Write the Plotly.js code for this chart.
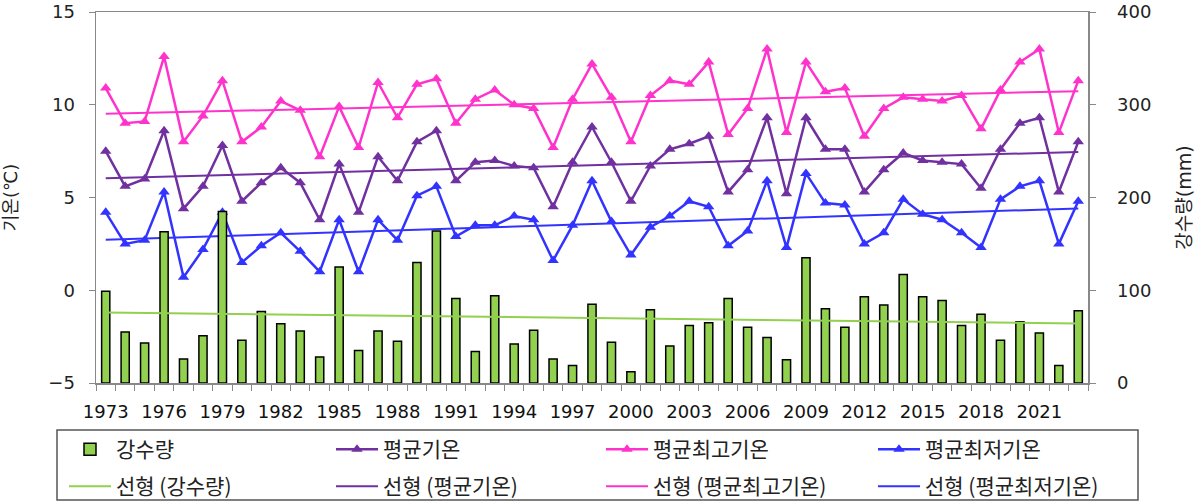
<!DOCTYPE html>
<html>
<head>
<meta charset="utf-8">
<script src="https://cdn.plot.ly/plotly-3.0.1.min.js"></script>
<style>html,body{margin:0;padding:0;background:#fff;}#chart{width:1195px;height:502px;}</style>
</head>
<body>
<div id="chart"></div>
<script>
const years = [1973,1974,1975,1976,1977,1978,1979,1980,1981,1982,1983,1984,1985,1986,1987,1988,1989,1990,1991,1992,1993,1994,1995,1996,1997,1998,1999,2000,2001,2002,2003,2004,2005,2006,2007,2008,2009,2010,2011,2012,2013,2014,2015,2016,2017,2018,2019,2020,2021,2022,2023];
const precip = [99,55,43,163,26,51,185,46,77,64,56,28,125,35,56,45,130,164,91,34,94,42,57,26,19,85,44,12,79,40,62,65,91,60,49,25,135,80,60,93,84,117,93,89,62,74,46,66,54,19,78];
const tMean = [7.5,5.6,6.0,8.6,4.4,5.6,7.8,4.8,5.8,6.6,5.8,3.8,6.8,4.2,7.2,5.9,8.0,8.6,5.9,6.9,7.0,6.7,6.6,4.5,6.9,8.8,6.9,4.8,6.7,7.6,7.9,8.3,5.3,6.5,9.3,5.2,9.3,7.6,7.6,5.3,6.5,7.4,7.0,6.9,6.8,5.5,7.6,9.0,9.3,5.3,8.0];
const tMax = [10.9,9.0,9.1,12.6,8.0,9.4,11.3,8.0,8.8,10.2,9.7,7.2,9.9,7.7,11.2,9.3,11.1,11.4,9.0,10.3,10.8,10.0,9.8,7.7,10.3,12.2,10.4,8.0,10.5,11.3,11.1,12.3,8.4,9.8,13.0,8.5,12.3,10.7,10.9,8.3,9.8,10.4,10.3,10.2,10.5,8.7,10.8,12.3,13.0,8.5,11.3];
const tMin = [4.2,2.5,2.7,5.3,0.7,2.2,4.2,1.5,2.4,3.1,2.1,1.0,3.8,1.0,3.8,2.7,5.1,5.6,2.9,3.5,3.5,4.0,3.8,1.6,3.5,5.9,3.7,1.9,3.4,4.0,4.8,4.5,2.4,3.2,5.9,2.3,6.3,4.7,4.6,2.5,3.1,4.9,4.1,3.8,3.1,2.3,4.9,5.6,5.9,2.5,4.8];
const xTickLabels = ["1973","1976","1979","1982","1985","1988","1991","1994","1997","2000","2003","2006","2009","2012","2015","2018","2021"];
const seriesNames = ["강수량","평균기온","평균최고기온","평균최저기온"];

function trend(xs, ys){
  const n = xs.length;
  let sx=0,sy=0,sxx=0,sxy=0;
  for(let i=0;i<n;i++){sx+=xs[i];sy+=ys[i];sxx+=xs[i]*xs[i];sxy+=xs[i]*ys[i];}
  const b=(n*sxy-sx*sy)/(n*sxx-sx*sx), a=(sy-b*sx)/n;
  return xs.map(x=>a+b*x);
}

const cGreen='#92D050', cPurple='#7030A0', cPink='#FF33CC', cBlue='#3333FF';
const fontFam = 'DejaVu Sans, Noto Sans CJK KR, sans-serif';
const legId = i => (i === 0 ? 'legend' : 'legend' + (i + 1));

function lineTrace(y, name, color, k){
  return {x:years, y:y, name:name, type:'scatter', mode:'lines+markers', yaxis:'y', legend:legId(k),
    line:{color:color, width:2.5}, marker:{symbol:'triangle-up', size:10, color:color}};
}
function trendTrace(y, name, color, axis, k){
  return {x:years, y:trend(years,y), name:'선형 ('+name+')', type:'scatter', mode:'lines', yaxis:axis,
    legend:legId(k), line:{color:color, width:2}};
}

const data = [
  {x:years, y:precip, name:seriesNames[0], type:'bar', yaxis:'y2', width:0.42, legend:legId(0),
   marker:{color:cGreen, line:{color:'#000', width:1.5}}},
  lineTrace(tMean, seriesNames[1], cPurple, 1),
  lineTrace(tMax, seriesNames[2], cPink, 2),
  lineTrace(tMin, seriesNames[3], cBlue, 3),
  trendTrace(precip, seriesNames[0], cGreen, 'y2', 4),
  trendTrace(tMean, seriesNames[1], cPurple, 'y', 5),
  trendTrace(tMax, seriesNames[2], cPink, 'y', 6),
  trendTrace(tMin, seriesNames[3], cBlue, 'y', 7)
];

const legColLeft = [64, 331, 601, 873];
const legRowTop = [429, 466];
function legendCell(k){
  return {orientation:'h', xref:'container', yref:'container',
    x:legColLeft[k % 4]/1195, xanchor:'left', y:(502 - legRowTop[Math.floor(k / 4)])/502, yanchor:'top',
    bgcolor:'rgba(0,0,0,0)', borderwidth:0,
    font:{size:21, family:'Noto Sans CJK KR, sans-serif', color:'#222'},
    itemwidth:42};
}

const layout = {
  width:1195, height:502,
  margin:{l:96, r:107, t:12, b:119},
  paper_bgcolor:'#fff', plot_bgcolor:'#fff',
  font:{family:fontFam, size:15, color:'#222'},
  showlegend:true,
  xaxis:{type:'linear', range:[1972.5,2023.5], tickmode:'array', automargin:false,
    tickvals:xTickLabels.map(Number), ticktext:xTickLabels, ticks:'', showgrid:false, zeroline:false,
    showline:true, linecolor:'#888', linewidth:1.5, mirror:true, ticklabelstandoff:12,
    tickfont:{size:18, family:fontFam, color:'#111'},
    minor:{tickmode:'linear', tick0:1972.5, dtick:1, ticks:'outside', ticklen:6, tickcolor:'#888', showgrid:false}},
  yaxis:{range:[-5,15], dtick:5, tick0:-5, ticks:'outside', ticklen:6, tickcolor:'#888', automargin:false,
    showline:true, linecolor:'#888', linewidth:1.5, showgrid:false, zeroline:false, ticklabelstandoff:10,
    tickfont:{size:18, family:fontFam, color:'#222'},
    title:{text:'기온(℃)', font:{size:18, family:fontFam, color:'#222'}, standoff:26}},
  yaxis2:{overlaying:'y', side:'right', range:[0,400], dtick:100, ticks:'outside', ticklen:6, tickcolor:'#888', automargin:false,
    showline:true, linecolor:'#888', linewidth:1.5, showgrid:false, zeroline:false, ticklabelstandoff:18,
    tickfont:{size:18, family:fontFam, color:'#222'},
    title:{text:'강수량(mm)', font:{size:19, family:fontFam, color:'#222'}, standoff:30}},
  shapes:[{type:'rect', xref:'paper', yref:'paper',
    x0:(57-96)/992, x1:(1138-96)/992, y0:(383-500)/371, y1:(383-430)/371,
    line:{color:'#555', width:1.5}, fillcolor:'rgba(0,0,0,0)', layer:'above'}],
  bargap:0.5
};
for (let k = 0; k < 8; k++) layout[legId(k)] = legendCell(k);

Plotly.newPlot('chart', data, layout, {displayModeBar:false, staticPlot:true});
</script>
</body>
</html>
